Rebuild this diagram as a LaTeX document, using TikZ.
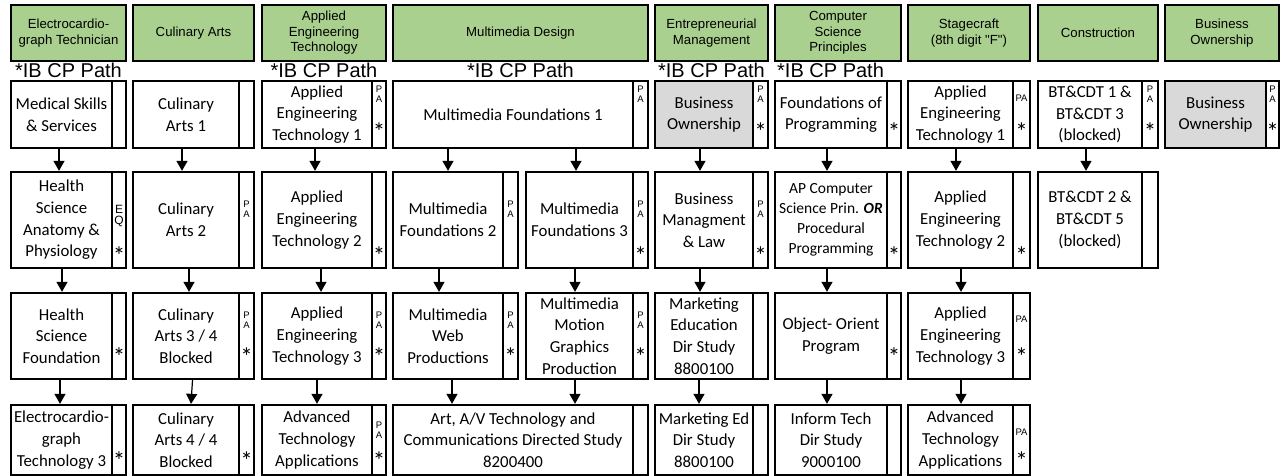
\documentclass[tikz,border=0pt]{standalone}
\usepackage{fontspec}
\setmainfont{Carlito}
\newfontfamily\arialf{Liberation Sans}
\usetikzlibrary{arrows.meta}
\definecolor{hgreen}{HTML}{A9D08E}
\definecolor{bgray}{HTML}{D9D9D9}
\tikzset{
 boxshape/.style={draw=black, line width=2.3pt, rectangle, inner sep=0pt, fill=white},
 boxtext/.style={inner sep=0pt, align=center, font=\fontsize{16.8}{21.7}\selectfont},
 smalltext/.style={inner sep=0pt, align=center, font=\fontsize{15.5}{20}\selectfont},
 head/.style={draw=black, line width=2.3pt, fill=hgreen, inner sep=0pt, align=center, font=\arialf\fontsize{13.2}{15.5}\selectfont},
 ib/.style={font=\arialf\fontsize{20}{22}\selectfont, inner sep=0pt},
 pa/.style={font=\arialf\fontsize{9.5}{10.5}\selectfont, inner sep=0pt, align=center},
 eq/.style={font=\arialf\fontsize{12}{10.5}\selectfont, inner sep=0pt, align=center},
 st/.style={font=\fontsize{25}{26}\selectfont, inner sep=0pt},
 arr/.style={line width=1.2pt, -{Triangle[width=11pt,length=10pt]}},
}
% #1 fill, #2 name, #3 x1, #4 xdiv, #5 x2, #6 y1, #7 y2, #8 text style, #9 text
\newcommand\mycell[9][white]{%
 \node[boxshape,fill=#1,minimum width={#4-#3},minimum height={#7-#6}] (#2) at ({(#3+#4)/2},{(#6+#7)/2}) {};
 \node[boxshape,minimum width={#5-#4},minimum height={#7-#6}] (#2s) at ({(#4+#5)/2},{(#6+#7)/2}) {};
 \node[#8] (#2t) at (#2.center) {#9};}
\newcommand\myhead[4]{% name x1 x2 text
 \node[head,minimum width={#3-#2},minimum height={61-5}] (#1) at ({(#2+#3)/2},{(5+61)/2}) {#4};}
\newcommand\lab[5]{\node[#4] (#1) at (#2,#3) {#5};}
\begin{document}
\begin{tikzpicture}[x=1pt,y=-1pt]
\useasboundingbox (0,0) rectangle (1281,476);
% headers
\myhead{h1}{11}{126}{Electrocardio-\\graph Technician}
\myhead{h2}{133}{254}{Culinary Arts}
\myhead{h3}{262}{386}{Applied\\Engineering\\Technology}
\myhead{h4}{393}{648}{Multimedia Design}
\myhead{h5}{655}{768}{Entrepreneurial\\Management}
\myhead{h6}{775}{901}{Computer\\Science\\Principles}
\myhead{h7}{908}{1030}{Stagecraft\\(8th digit "F")}
\myhead{h8}{1038}{1158}{Construction}
\myhead{h9}{1165}{1279}{Business\\Ownership}
% IB CP Path
\node[ib,anchor=base] (ib1) at (68.5,77.5) {*IB CP Path};
\node[ib,anchor=base] (ib3) at (324,77.5) {*IB CP Path};
\node[ib,anchor=base] (ib4) at (520.5,77.5) {*IB CP Path};
\node[ib,anchor=base] (ib5) at (711.5,77.5) {*IB CP Path};
\node[ib,anchor=base west] (ib6) at (777,77.5) {*IB CP Path};
% row 1
\mycell{r1c1}{11}{112}{126}{81}{148}{boxtext}{Medical Skills\\\& Services}
\mycell{r1c2}{133}{239}{254}{81}{148}{boxtext}{Culinary\\Arts 1}
\mycell{r1c3}{262}{372}{386}{81}{148}{boxtext}{Applied\\Engineering\\Technology 1}
\mycell{r1c4}{393}{633}{648}{81}{148}{boxtext}{Multimedia Foundations 1}
\mycell[bgray]{r1c5}{655}{753}{768}{81}{148}{boxtext}{Business\\Ownership}
\mycell{r1c6}{775}{887}{901}{81}{148}{boxtext}{Foundations of\\Programming}
\mycell{r1c7}{908}{1013}{1030}{81}{148}{boxtext}{Applied\\Engineering\\Technology 1}
\mycell{r1c8}{1038}{1142}{1158}{81}{148}{boxtext}{BT\&CDT 1 \&\\BT\&CDT 3\\(blocked)}
\mycell[bgray]{r1c9}{1165}{1266}{1279}{81}{148}{boxtext}{Business\\Ownership}
% row 2
\mycell{r2c1}{11}{112}{126}{172}{268}{boxtext}{Health\\Science\\Anatomy \&\\Physiology}
\mycell{r2c2}{133}{239}{254}{172}{268}{boxtext}{Culinary\\Arts 2}
\mycell{r2c3}{262}{372}{386}{172}{268}{boxtext}{Applied\\Engineering\\Technology 2}
\mycell{r2c4a}{393}{503}{518}{172}{268}{boxtext}{Multimedia\\Foundations 2}
\mycell{r2c4b}{526}{633}{648}{172}{268}{boxtext}{Multimedia\\Foundations 3}
\mycell{r2c5}{655}{753}{768}{172}{268}{boxtext}{Business\\Managment\\\& Law}
\mycell{r2c6}{775}{887}{901}{172}{268}{smalltext}{AP Computer\\Science Prin. \textbf{\textit{OR}}\\Procedural\\Programming}
\mycell{r2c7}{908}{1013}{1030}{172}{268}{boxtext}{Applied\\Engineering\\Technology 2}
\mycell{r2c8}{1038}{1142}{1158}{172}{268}{boxtext}{BT\&CDT 2 \&\\BT\&CDT 5\\(blocked)}
% row 3
\mycell{r3c1}{11}{112}{126}{293}{379}{boxtext}{Health\\Science\\Foundation}
\mycell{r3c2}{133}{239}{254}{293}{379}{boxtext}{Culinary\\Arts 3 / 4\\Blocked}
\mycell{r3c3}{262}{372}{386}{293}{379}{boxtext}{Applied\\Engineering\\Technology 3}
\mycell{r3c4a}{393}{503}{518}{293}{379}{boxtext}{Multimedia\\Web\\Productions}
\mycell{r3c4b}{526}{633}{648}{293}{379}{boxtext}{Multimedia\\Motion\\Graphics\\Production}
\mycell{r3c5}{655}{753}{768}{293}{379}{boxtext}{Marketing\\Education\\Dir Study\\8800100}
\mycell{r3c6}{775}{887}{901}{293}{379}{boxtext}{Object- Orient\\Program}
\mycell{r3c7}{908}{1013}{1030}{293}{379}{boxtext}{Applied\\Engineering\\Technology 3}
% row 4
\mycell{r4c1}{11}{112}{126}{405}{475}{boxtext}{Electrocardio-\\graph\\Technology 3}
\mycell{r4c2}{133}{239}{254}{405}{475}{boxtext}{Culinary\\Arts 4 / 4\\Blocked}
\mycell{r4c3}{262}{372}{386}{405}{475}{boxtext}{Advanced\\Technology\\Applications}
\mycell{r4c4}{393}{633}{648}{405}{475}{boxtext}{Art, A/V Technology and\\Communications Directed Study\\8200400}
\mycell{r4c5}{655}{753}{768}{405}{475}{boxtext}{Marketing Ed\\Dir Study\\8800100}
\mycell{r4c6}{775}{887}{901}{405}{475}{boxtext}{Inform Tech\\Dir Study\\9000100}
\mycell{r4c7}{908}{1013}{1030}{405}{475}{boxtext}{Advanced\\Technology\\Applications}
% side labels row 1
\lab{l13p}{379}{94}{pa}{P\\A}\lab{l13s}{379}{132}{st}{*}
\lab{l14p}{640.5}{94}{pa}{P\\A}
\lab{l15p}{760.5}{94}{pa}{P\\A}\lab{l15s}{760.5}{132}{st}{*}
\lab{l16s}{894}{132}{st}{*}
\lab{l17p}{1021.5}{98}{pa}{PA}\lab{l17s}{1021.5}{132}{st}{*}
\lab{l18p}{1150}{94}{pa}{P\\A}\lab{l18s}{1150}{132}{st}{*}
\lab{l19p}{1272.5}{94}{pa}{P\\A}\lab{l19s}{1272.5}{132}{st}{*}
% row 2
\lab{l21e}{119}{216}{eq}{E\\Q}\lab{l21s}{119}{256}{st}{*}
\lab{l22p}{246.5}{209}{pa}{P\\A}
\lab{l23s}{379}{256}{st}{*}
\lab{l24ap}{510.5}{209}{pa}{P\\A}
\lab{l24bp}{640.5}{209}{pa}{P\\A}\lab{l24bs}{640.5}{256}{st}{*}
\lab{l25p}{760.5}{209}{pa}{P\\A}\lab{l25s}{760.5}{256}{st}{*}
\lab{l26s}{894}{256}{st}{*}
\lab{l27s}{1021.5}{256}{st}{*}
% row 3
\lab{l31s}{119}{357}{st}{*}
\lab{l32p}{246.5}{320}{pa}{P\\A}\lab{l32s}{246.5}{357}{st}{*}
\lab{l33p}{379}{320}{pa}{P\\A}\lab{l33s}{379}{357}{st}{*}
\lab{l34ap}{510.5}{320}{pa}{P\\A}\lab{l34as}{510.5}{357}{st}{*}
\lab{l34bp}{640.5}{320}{pa}{P\\A}\lab{l34bs}{640.5}{357}{st}{*}
\lab{l36s}{894}{357}{st}{*}
\lab{l37p}{1021.5}{319}{pa}{PA}\lab{l37s}{1021.5}{357}{st}{*}
% row 4
\lab{l41s}{119}{461}{st}{*}
\lab{l42s}{246.5}{461}{st}{*}
\lab{l43p}{379}{430}{pa}{P\\A}\lab{l43s}{379}{461}{st}{*}
\lab{l47p}{1021.5}{432}{pa}{PA}\lab{l47s}{1021.5}{461}{st}{*}
% arrows col 1
\draw[arr] ([xshift=-2.5]r1c1.south) -- ([xshift=-2.5]r2c1.north);
\draw[arr] ([xshift=0.5]r2c1.south) -- ([xshift=0.5]r3c1.north);
\draw[arr] ([xshift=-1.5]r3c1.south) -- ([xshift=-1.5]r4c1.north);
% col 2
\draw[arr] ([xshift=-4]r1c2.south) -- ([xshift=-4]r2c2.north);
\draw[arr] ([xshift=3]r2c2.south) -- ([xshift=3]r3c2.north);
\draw[arr] ([xshift=6.5]r3c2.south) -- ([xshift=5]r4c2.north);
% col 3
\draw[arr] ([xshift=-2]r1c3.south) -- ([xshift=-2]r2c3.north);
\draw[arr] ([xshift=4]r2c3.south) -- ([xshift=4]r3c3.north);
\draw[arr] ([xshift=0]r3c3.south) -- ([xshift=0]r4c3.north);
% col 4
\draw[arr] ([xshift=-65]r1c4.south) -- ([xshift=0]r2c4a.north);
\draw[arr] ([xshift=63]r1c4.south) -- ([xshift=-3.5]r2c4b.north);
\draw[arr] ([xshift=-9]r2c4a.south) -- ([xshift=-9]r3c4a.north);
\draw[arr] ([xshift=-4.5]r2c4b.south) -- ([xshift=-4.5]r3c4b.north);
\draw[arr] ([xshift=4]r3c4a.south) -- ([xshift=-61]r4c4.north);
\draw[arr] ([xshift=-4.5]r3c4b.south) -- ([xshift=62]r4c4.north);
% col 5
\draw[arr] ([xshift=-4]r1c5.south) -- ([xshift=-4]r2c5.north);
\draw[arr] ([xshift=-4]r2c5.south) -- ([xshift=-4]r3c5.north);
\draw[arr] ([xshift=-5]r3c5.south) -- ([xshift=-5]r4c5.north);
% col 6
\draw[arr] ([xshift=-4]r1c6.south) -- ([xshift=-4]r2c6.north);
\draw[arr] ([xshift=-4]r2c6.south) -- ([xshift=-4]r3c6.north);
\draw[arr] ([xshift=-4]r3c6.south) -- ([xshift=-4]r4c6.north);
% col 7
\draw[arr] ([xshift=-4.5]r1c7.south) -- ([xshift=-4.5]r2c7.north);
\draw[arr] ([xshift=0.5]r2c7.south) -- ([xshift=0.5]r3c7.north);
\draw[arr] ([xshift=0.5]r3c7.south) -- ([xshift=0.5]r4c7.north);
% col 8
\draw[arr] ([xshift=-4]r1c8.south) -- ([xshift=-4]r2c8.north);
\end{tikzpicture}
\end{document}
